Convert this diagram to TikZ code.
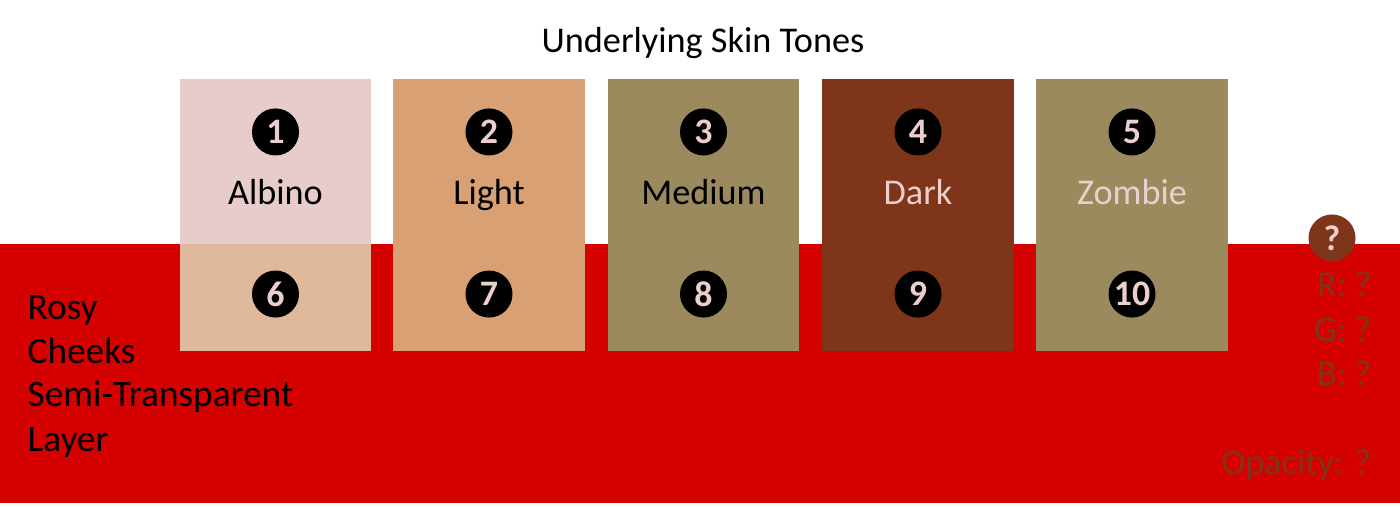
\documentclass[tikz,border=0pt]{standalone}
\usepackage{fontspec}
\setmainfont{Carlito}
\usetikzlibrary{positioning}
\definecolor{bandred}{HTML}{D50000}
\definecolor{albino}{HTML}{E8CCCC}
\definecolor{albinolow}{HTML}{E0B99C}
\definecolor{lighttone}{HTML}{D9A173}
\definecolor{mediumtone}{HTML}{9A8A5D}
\definecolor{darktone}{HTML}{7E351A}
\definecolor{zombietone}{HTML}{9A8A5E}
\definecolor{pinktext}{HTML}{EBCFCF}

\begin{document}
\begin{tikzpicture}[
    x=0.01cm, y=-0.01cm,
    every node/.style={font=\fontsize{10.3}{12}\selectfont},
    swatch/.style={
        fill=#1,
        draw=none,
        inner sep=0pt,
        minimum width=1.91cm,
        minimum height=2.72cm,
    },
    badge/.style={
        circle,
        fill=black,
        text=pinktext,
        inner sep=0pt,
        minimum size=0.47cm,
        font=\fontsize{10.2}{11}\selectfont\bfseries,
    },
    tonelabel/.style={text=#1, anchor=base, inner sep=0pt},
    sidetext/.style={anchor=base west, inner sep=0pt, font=\fontsize{10.6}{12}\selectfont},
    rgbtext/.style={anchor=base east, inner sep=0pt, text=darktone},
]

% Canvas
\useasboundingbox (0,0) rectangle (1400,507);
\fill[white] (0,0) rectangle (1400,507);

% Rosy cheeks layer
\fill[bandred] (0,244) rectangle (1400,503);

% Title
\node[anchor=base, inner sep=0pt] (title) at (703,53) {Underlying Skin Tones};

% Swatches
\node[swatch=albino] (albino) at (275.5,215) {};
\fill[albinolow] (180,244) rectangle (371,351);
\node[swatch=lighttone] (light) at (489,215) {};
\node[swatch=mediumtone] (medium) at (703.5,215) {};
\node[swatch=darktone] (dark) at (918,215) {};
\node[swatch=zombietone] (zombie) at (1132,215) {};

% Upper badges
\node[badge,below=0.295cm of albino.north] (b1) {1};
\node[badge,below=0.295cm of light.north] (b2) {2};
\node[badge,below=0.295cm of medium.north] (b3) {3};
\node[badge,below=0.295cm of dark.north] (b4) {4};
\node[badge,below=0.295cm of zombie.north] (b5) {5};

% Tone names
\node[tonelabel=black] (lalbino) at (275.5,205) {Albino};
\node[tonelabel=black] (llight) at (489,205) {Light};
\node[tonelabel=black] (lmedium) at (703.5,205) {Medium};
\node[tonelabel=pinktext] (ldark) at (918,205) {Dark};
\node[tonelabel=pinktext] (lzombie) at (1132,205) {Zombie};

% Lower badges
\node[badge,above=0.335cm of albino.south] (b6) {6};
\node[badge,above=0.335cm of light.south] (b7) {7};
\node[badge,above=0.335cm of medium.south] (b8) {8};
\node[badge,above=0.335cm of dark.south] (b9) {9};
\node[badge,above=0.335cm of zombie.south] (b10) {10};

% Layer description
\node[sidetext] (rosy) at (27,320) {Rosy};
\node[sidetext] (cheeks) at (27,363.5) {Cheeks};
\node[sidetext] (semi) at (27,407) {Semi-Transparent};
\node[sidetext] (layer) at (27,451.5) {Layer};

% Unknown colour
\node[badge,fill=darktone] (unknown) at (1332,238) {?};
\node[rgbtext] (rval) at (1372,297) {R: ?};
\node[rgbtext] (gval) at (1372,342) {G: ?};
\node[rgbtext] (bval) at (1372,386) {B: ?};
\node[rgbtext] (opacity) at (1372,475) {Opacity: ?};

\end{tikzpicture}
\end{document}
